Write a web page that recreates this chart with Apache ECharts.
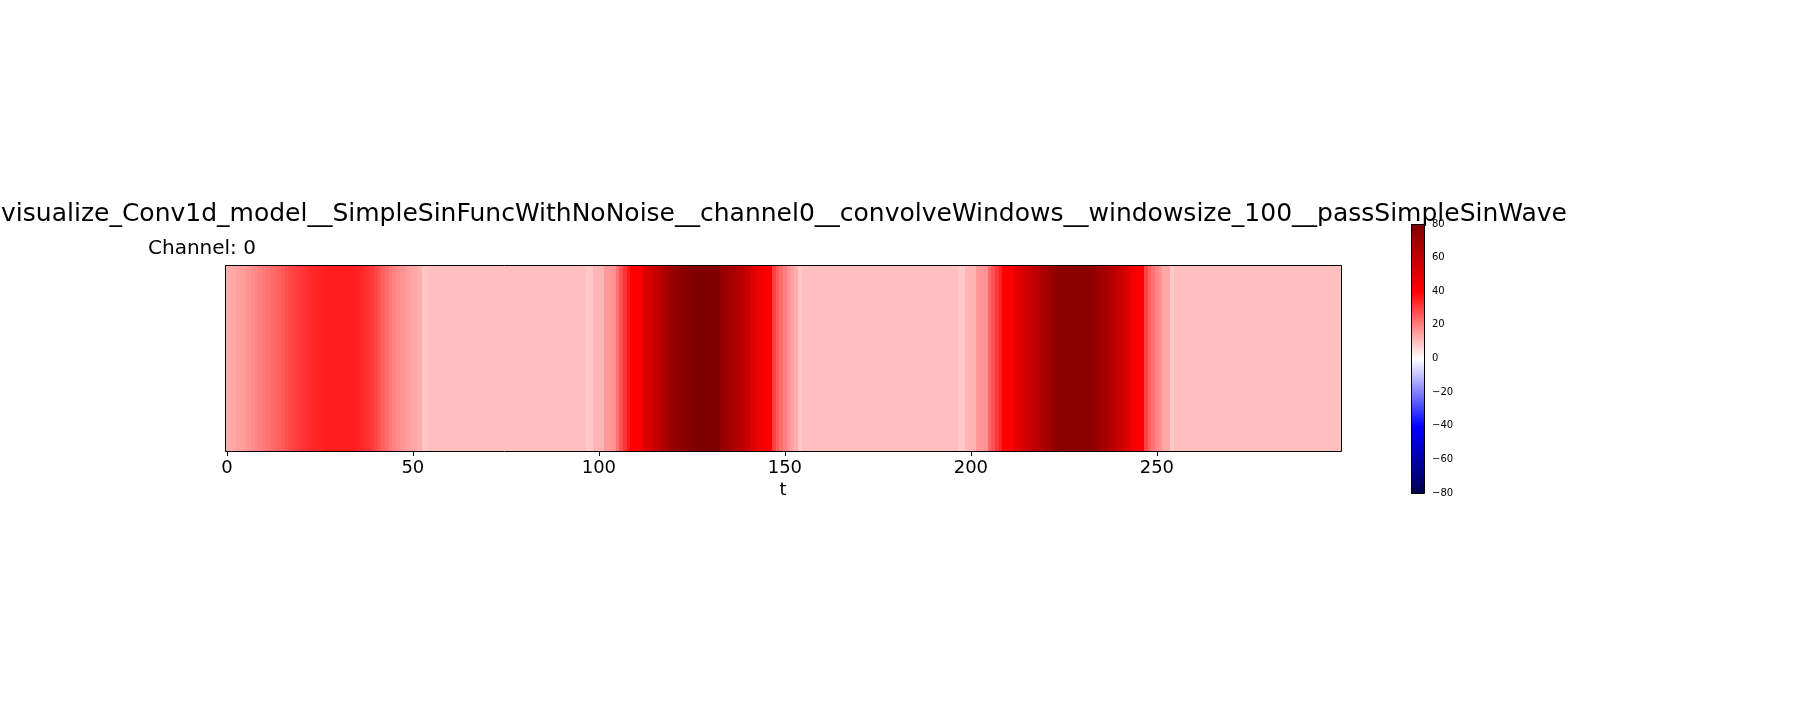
<!DOCTYPE html>
<html><head><meta charset="utf-8">
<script src="https://cdn.jsdelivr.net/npm/echarts@6/dist/echarts.min.js"></script>
<style>html,body{margin:0;padding:0;background:#fff}#c{width:1800px;height:720px}</style>
</head><body><div id="c"></div>
<script>
const titleText = 'visualize_Conv1d_model__SimpleSinFuncWithNoNoise__channel0__convolveWindows__windowsize_100__passSimpleSinWave';
const channelLabel = 'Channel: 0';
const xAxisName = 't';
const xTickStep = 50;
const colorbarMin = -80;
const colorbarMax = 80;
const colorbarStep = 20;
const seismicColors = ['#00004d', '#0000ff', '#ffffff', '#ff0000', '#800000'];

// one value per time step t = 0..299
const tValues = [
  13,13.5,14,15,15.5,16,17,18,19,20,
  21,22,23,24,25,26,27.5,28.5,29.5,30.5,
  31,32,33,33.5,34,34.5,35,35.5,35.5,35.5,
  35.5,35.5,35.5,35.5,35.5,35,34,33,32,31,
  29,27,25,23,21,19.5,18,17,16,15,
  14,13.5,12.5,9,9.5,10,10,10,10,10,
  10,10,10,10,10,10,10,10,10,10,
  10,10,10,10,10,10,10,10,10,10,
  10,10,10,10,10,10,10,10,10,10,
  10,10,10,10,10,10,10,8.5,8.5,11.5,
  12,12,16,16,17,22,27,32,36,40,
  40,40,48,51,54,57,60,63,67,70,
  72,74,76,77,78,79,80,80,80,80,
  80,80,80,74,72,70,67,65,62,60,
  57,52,49,46,43,41,40,30,26,23,
  20,17,15,13,8.5,10,10,10,10,10,
  10,10,10,10,10,10,10,10,10,10,
  10,10,10,10,10,10,10,10,10,10,
  10,10,10,10,10,10,10,10,10,10,
  10,10,10,10,10,10,10,8.5,8.5,11.5,
  12,12,16,16.5,17,24,27,31,35,40,
  40,40,47,50,52,55,57,60,62,65,
  67,70,73,75,76,76,76,76,76,76,
  76,76,76,75,73,70,68,65,63,60,
  57,54,51,45,43,41,40,29,25,22,
  19,17,14,14,8.5,10,10,10,10,10,
  10,10,10,10,10,10,10,10,10,10,
  10,10,10,10,10,10,10,10,10,10,
  10,10,10,10,10,10,10,10,10,10,
  10,10,10,10,10,10,10,10,10,10
];
const tCategories = tValues.map((_, i) => String(i));
const heatData = tValues.map((v, i) => [i, 0, v]);

const FONT = 'DejaVu Sans';
const chart = echarts.init(document.getElementById('c'), null, {renderer: 'canvas'});
const minusFmt = v => (v < 0 ? '\u2212' + (-v) : String(v));

function renderCell(params, api) {
  const c = api.coord([api.value(0), api.value(1)]);
  const s = api.size([1, 1]);
  const x0 = Math.round(c[0] - s[0] / 2), x1 = Math.round(c[0] + s[0] / 2);
  const y0 = Math.round(c[1] - s[1] / 2), y1 = Math.round(c[1] + s[1] / 2);
  return {type: 'rect', shape: {x: x0, y: y0, width: x1 - x0, height: y1 - y0}, style: {fill: api.visual('color')}};
}

chart.setOption({
  animation: false,
  textStyle: {fontFamily: FONT, color: '#000'},
  grid: [
    {left: 225, top: 265, width: 1116, height: 186, show: false, containLabel: false},
    {left: 1411, top: 224, width: 13, height: 269, show: false, containLabel: false}
  ],
  xAxis: [
    {
      type: 'category', gridIndex: 0, data: tCategories, boundaryGap: true,
      axisLine: {show: false},
      axisTick: {show: true, alignWithLabel: true, length: 5, interval: i => i % xTickStep === 0, lineStyle: {color: '#000'}},
      axisLabel: {show: true, interval: i => i % xTickStep === 0, fontSize: 18, color: '#000', fontFamily: FONT, margin: 8},
      splitLine: {show: false},
      name: xAxisName, nameLocation: 'middle', nameGap: 30,
      nameTextStyle: {fontSize: 18, color: '#000', fontFamily: FONT}
    },
    {type: 'value', gridIndex: 1, show: false, min: 0, max: 1}
  ],
  yAxis: [
    {type: 'category', gridIndex: 0, data: ['0'], show: false},
    {
      type: 'value', gridIndex: 1, min: colorbarMin, max: colorbarMax, interval: colorbarStep, position: 'right',
      axisLine: {show: false},
      axisTick: {show: true, length: 4, lineStyle: {color: '#000'}},
      axisLabel: {fontSize: 10, color: '#000', margin: 8, fontFamily: FONT, formatter: minusFmt},
      splitLine: {show: false}
    }
  ],
  visualMap: {
    show: false, type: 'continuous', min: colorbarMin, max: colorbarMax, seriesIndex: 0, dimension: 2,
    inRange: {color: seismicColors}
  },
  series: [
    {type: 'custom', xAxisIndex: 0, yAxisIndex: 0, data: heatData, encode: {x: 0, y: 1}, renderItem: renderCell, silent: true, clip: true}
  ],
  graphic: [
    {type: 'text', x: 784, y: 214, z: 10, style: {text: titleText, font: '25px "DejaVu Sans"', fill: '#000', align: 'center', verticalAlign: 'middle'}},
    {type: 'text', x: 148, y: 249, z: 10, style: {text: channelLabel, font: '20px "DejaVu Sans"', fill: '#000', align: 'left', verticalAlign: 'middle'}},
    {type: 'rect', x: 225, y: 265, z: 100, silent: true, shape: {x: 0.5, y: 0.5, width: 1116, height: 186}, style: {fill: null, stroke: '#000', lineWidth: 1}},
    {
      type: 'rect', x: 1411, y: 224, z: 5,
      shape: {x: 0.5, y: 0.5, width: 13, height: 269},
      style: {
        fill: new echarts.graphic.LinearGradient(0, 0, 0, 1, [
          {offset: 0, color: seismicColors[4]},
          {offset: 0.25, color: seismicColors[3]},
          {offset: 0.5, color: seismicColors[2]},
          {offset: 0.75, color: seismicColors[1]},
          {offset: 1, color: seismicColors[0]}
        ]),
        stroke: '#000', lineWidth: 1
      }
    }
  ]
});
</script></body></html>
